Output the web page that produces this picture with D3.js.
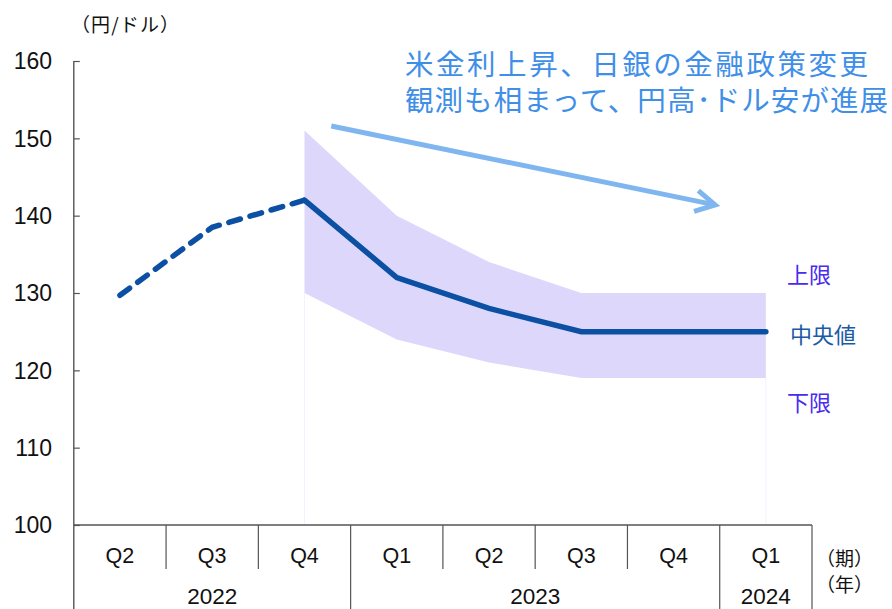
<!DOCTYPE html>
<html><head><meta charset="utf-8">
<script src="https://cdn.jsdelivr.net/npm/d3@7"></script>
<style>
html,body{margin:0;padding:0;background:#fff;}
svg{display:block;font-family:"Liberation Sans","Noto Sans CJK JP",sans-serif;}
.jp{font-family:"Noto Sans CJK JP","Liberation Sans",sans-serif;}
</style></head>
<body>
<svg id="chart" width="892" height="609"></svg>
<script>
// Quarterly yen/dollar path: actuals then forecast band
const quarters = ["Q2","Q3","Q4","Q1","Q2","Q3","Q4","Q1"];
const years = [{label:"2022", from:0, to:3},{label:"2023", from:3, to:7},{label:"2024", from:7, to:8}];
const centralValue = [129.7, 138.5, 142, 132, 128, 125, 125, 125];
const upperBound   = [null, null, 151, 140, 134, 130, 130, 130];
const lowerBound   = [null, null, 130, 124, 121, 119, 119, 119];
const actualCount = 3;           // first three points are actual results (dashed)
const yTicks = [100,110,120,130,140,150,160];

(function draw() {
const svg = d3.select("#chart");
const plotLeft = 73.8, plotRight = 812, plotTop = 61, plotBottom = 525;

const x = d3.scaleBand().domain(d3.range(quarters.length)).range([plotLeft, plotRight]).padding(0);
const xc = i => x(i) + x.bandwidth()/2;
const xi = d3.scaleLinear().domain([0, quarters.length]).range([plotLeft, plotRight]); // continuous index
const y = d3.scaleLinear().domain([100,160]).range([plotBottom, plotTop]);

// forecast band
const bandIdx = d3.range(quarters.length).filter(i => upperBound[i] != null);
svg.append("path")
  .datum(bandIdx)
  .attr("fill", "#ddd8fb")
  .attr("d", d3.area().x(i => xc(i)).y0(i => y(lowerBound[i])).y1(i => y(upperBound[i])));

// faint edges of band columns
svg.append("g").selectAll("line").data([bandIdx[0], bandIdx[bandIdx.length-1]]).join("line")
  .attr("x1", i => xc(i)).attr("x2", i => xc(i))
  .attr("y1", i => y(lowerBound[i])).attr("y2", plotBottom)
  .attr("stroke", "#f3f1fe").attr("stroke-width", 1);

// y axis
const yAxis = d3.axisRight(y).tickValues(yTicks).tickSize(6).tickFormat("");
const gy = svg.append("g").attr("transform", `translate(${plotLeft},0)`).call(yAxis);
gy.select(".domain").remove();
gy.selectAll("line").attr("stroke", "#555").attr("stroke-width", 1.2);
svg.append("line").attr("x1", plotLeft).attr("x2", plotLeft).attr("y1", y(160)).attr("y2", 609)
  .attr("stroke", "#555").attr("stroke-width", 1.4);
svg.append("g").selectAll("text").data(yTicks).join("text")
  .attr("x", 52).attr("y", d => y(d)).attr("dy", "0.36em")
  .attr("text-anchor", "end").attr("font-size", 23).attr("fill", "#111").text(d => d);

svg.append("text").attr("class","jp").attr("x", 71).attr("y", 32)
  .attr("font-size", 19).attr("fill", "#111")
  .attr("textLength", 108).attr("lengthAdjust", "spacing").text("（円/ドル）");

// x axis
svg.append("line").attr("x1", plotLeft).attr("x2", plotRight).attr("y1", plotBottom).attr("y2", plotBottom)
  .attr("stroke", "#555").attr("stroke-width", 1.4);
const qSep = d3.range(1, quarters.length + 1);
const yearEdges = new Set(years.map(d => d.to));
svg.append("g").selectAll("line").data(qSep).join("line")
  .attr("x1", i => xi(i)).attr("x2", i => xi(i))
  .attr("y1", plotBottom).attr("y2", i => yearEdges.has(i) ? 609 : 569)
  .attr("stroke", "#555").attr("stroke-width", 1.2);
svg.append("g").selectAll("text").data(quarters).join("text")
  .attr("x", (d,i) => xc(i)).attr("y", 563).attr("text-anchor", "middle")
  .attr("font-size", 21.5).attr("fill", "#111").text(d => d);
svg.append("g").selectAll("text").data(years).join("text")
  .attr("x", d => (xi(d.from) + xi(d.to))/2).attr("y", 604).attr("text-anchor", "middle")
  .attr("font-size", 22.5).attr("fill", "#111").text(d => d.label);
svg.append("text").attr("class","jp").attr("x", 816).attr("y", 566).attr("font-size", 19).attr("fill","#111")
  .text("（期）");
svg.append("text").attr("class","jp").attr("x", 816).attr("y", 592).attr("font-size", 19).attr("fill","#111")
  .text("（年）");

// central line: dashed for actuals, solid for forecast
const line = d3.line().x(i => xc(i)).y(i => y(centralValue[i]));
svg.append("path").datum(d3.range(0, actualCount))
  .attr("fill","none").attr("stroke","#0b50a2").attr("stroke-width",5.5)
  .attr("stroke-linecap","round").attr("stroke-dasharray","12 10")
  .attr("d", line);
svg.append("path").datum(d3.range(actualCount - 1, quarters.length))
  .attr("fill","none").attr("stroke","#0b50a2").attr("stroke-width",5.5)
  .attr("stroke-linecap","round").attr("stroke-linejoin","miter")
  .attr("d", line);

// band labels
const lastI = quarters.length - 1;
svg.append("text").attr("class","jp").attr("x", 787).attr("y", y(upperBound[lastI]) - 18).attr("dy", "0.36em")
  .attr("font-size", 22).attr("fill", "#4a2cf0").text("上限");
svg.append("text").attr("class","jp").attr("x", 790).attr("y", y(centralValue[lastI]) + 3).attr("dy", "0.36em")
  .attr("font-size", 22).attr("fill", "#1a5aa6").text("中央値");
svg.append("text").attr("class","jp").attr("x", 787).attr("y", y(lowerBound[lastI]) + 25).attr("dy", "0.36em")
  .attr("font-size", 22).attr("fill", "#4a2cf0").text("下限");

// trend arrow
const a0 = [xi(2.79), y(151.6)], a1 = [xi(6.95), y(141.4)];
svg.append("line").attr("x1", a0[0]).attr("y1", a0[1]).attr("x2", a1[0]).attr("y2", a1[1])
  .attr("stroke", "#80b6f0").attr("stroke-width", 5);
const ang = Math.atan2(a1[1]-a0[1], a1[0]-a0[0]);
const hl = 22, hw = 0.5;
svg.append("path")
  .attr("d", `M${a1[0]-hl*Math.cos(ang-hw)},${a1[1]-hl*Math.sin(ang-hw)}L${a1[0]},${a1[1]}L${a1[0]-hl*Math.cos(ang+hw)},${a1[1]-hl*Math.sin(ang+hw)}`)
  .attr("fill","none").attr("stroke","#80b6f0").attr("stroke-width",5).attr("stroke-linejoin","miter");

// headline note
const note = ["米金利上昇、日銀の金融政策変更", "観測も相まって、円高･ドル安が進展"];
const noteWidth = [463, 483];
svg.append("g").selectAll("text").data(note).join("text").attr("class","jp")
  .attr("x", 405).attr("y", (d,i) => 75 + i*36)
  .attr("font-size", 28.5).attr("fill", "#3f8fe8")
  .attr("textLength", (d,i) => noteWidth[i]).attr("lengthAdjust", "spacing")
  .text(d => d);
})();
</script>
</body></html>
